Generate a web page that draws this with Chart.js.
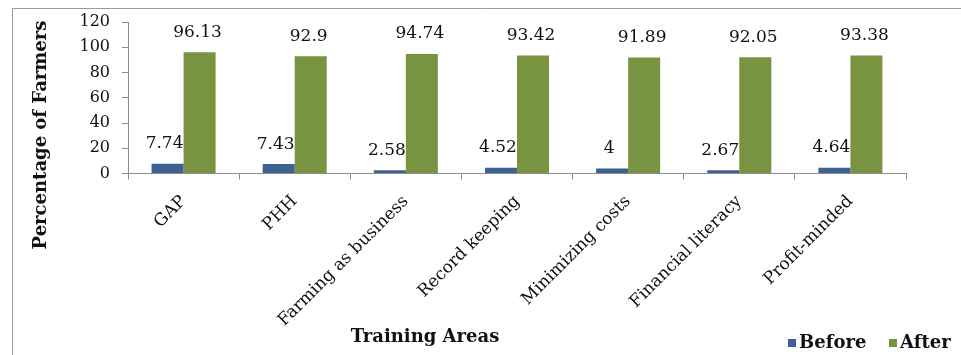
<!DOCTYPE html>
<html>
<head>
<meta charset="utf-8">
<script src="https://cdn.jsdelivr.net/npm/chart.js@4.4.1/dist/chart.umd.min.js"></script>
<style>
  html, body { margin: 0; padding: 0; background: #fff; }
  #wrap { width: 961px; height: 355px; position: relative; }
</style>
</head>
<body>
<div id="wrap"><canvas id="grafico" width="961" height="355"></canvas></div>
<script>
// Datos del gráfico
const areas = ['GAP', 'PHH', 'Farming as business', 'Record keeping', 'Minimizing costs', 'Financial literacy', 'Profit-minded'];
const antes = [7.74, 7.43, 2.58, 4.52, 4, 2.67, 4.64];
const despues = [96.13, 92.9, 94.74, 93.42, 91.89, 92.05, 93.38];
const ticksY = [0, 20, 40, 60, 80, 100, 120];

const SERIF = '"DejaVu Serif", serif';

// Marco, títulos, leyenda y etiquetas de datos
const extras = {
  id: 'extras',
  beforeDraw(chart) {
    const ctx = chart.ctx;
    ctx.save();
    ctx.fillStyle = '#fff';
    ctx.fillRect(0, 0, chart.width, chart.height);
    ctx.strokeStyle = '#9a9a9a';
    ctx.lineWidth = 1;
    ctx.beginPath();
    ctx.moveTo(12.5, 355);
    ctx.lineTo(12.5, 8.5);
    ctx.lineTo(961, 8.5);
    ctx.stroke();
    ctx.restore();
  },
  afterDraw(chart) {
    const ctx = chart.ctx;
    ctx.save();
    // etiquetas de datos
    ctx.font = '17px ' + SERIF;
    ctx.fillStyle = '#111';
    ctx.textAlign = 'center';
    ctx.textBaseline = 'middle';
    chart.data.datasets.forEach((ds, i) => {
      const meta = chart.getDatasetMeta(i);
      meta.data.forEach((bar, j) => {
        const dx = i === 0 ? -3 : -2;
        ctx.fillText(String(ds.data[j]), bar.x + dx, bar.y - 20);
      });
    });
    // título eje Y
    ctx.font = 'bold 18px ' + SERIF;
    ctx.save();
    ctx.translate(41, 135);
    ctx.rotate(-Math.PI / 2);
    ctx.fillText('Percentage of Farmers', 0, 0);
    ctx.restore();
    // título eje X
    ctx.fillText('Training Areas', 425, 337);
    // leyenda
    let x = 788;
    chart.data.datasets.forEach((ds) => {
      ctx.fillStyle = ds.backgroundColor;
      ctx.fillRect(x, 339, 8, 8);
      ctx.fillStyle = '#111';
      ctx.textAlign = 'left';
      ctx.fillText(ds.label, x + 11, 343);
      x += 101;
    });
    ctx.restore();
  }
};

new Chart(document.getElementById('grafico'), {
  type: 'bar',
  data: {
    labels: areas,
    datasets: [
      { label: 'Before', data: antes, backgroundColor: '#3d6191' },
      { label: 'After', data: despues, backgroundColor: '#789440' }
    ]
  },
  options: {
    responsive: false,
    animation: false,
    devicePixelRatio: 1,
    layout: { padding: { left: 0, top: 22, right: 55, bottom: 0 } },
    datasets: { bar: { categoryPercentage: 0.576, barPercentage: 1.0 } },
    plugins: {
      legend: { display: false },
      tooltip: { enabled: false }
    },
    scales: {
      x: {
        grid: { display: true, offset: true, drawOnChartArea: false, drawTicks: true, tickLength: 6, color: '#8c8c8c' },
        border: { display: true, color: '#8c8c8c' },
        ticks: {
          minRotation: 45, maxRotation: 45, padding: 12,
          color: '#111', font: { family: SERIF, size: 17 }
        },
        afterFit(scale) { scale.height = 181.5; }
      },
      y: {
        min: 0, max: 120,
        afterBuildTicks(scale) { scale.ticks = ticksY.map(v => ({ value: v })); },
        grid: { display: true, drawOnChartArea: false, drawTicks: true, tickLength: 6, color: '#8c8c8c' },
        border: { display: true, color: '#8c8c8c' },
        ticks: { padding: 12, color: '#111', font: { family: SERIF, size: 16 } },
        afterFit(scale) { scale.width = 128; }
      }
    }
  },
  plugins: [extras]
});
</script>
</body>
</html>
